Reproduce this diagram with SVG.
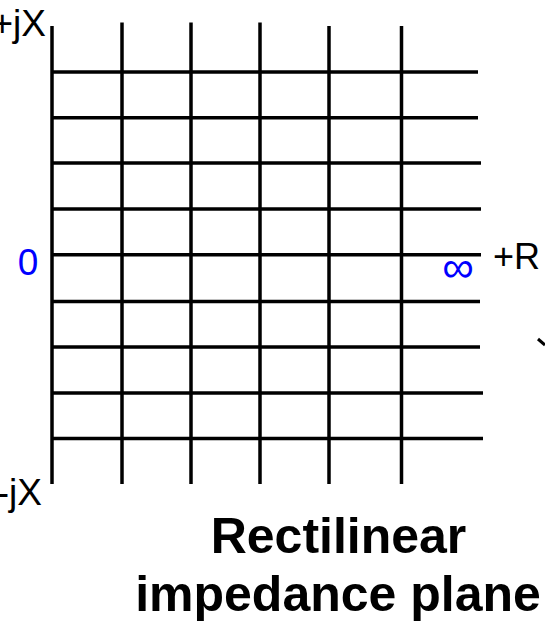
<svg xmlns="http://www.w3.org/2000/svg" width="545" height="624" viewBox="0 0 545 624">
<style>
.g{stroke:#000;stroke-width:3.5;fill:none}
.lbl{font-family:"Liberation Sans",Arial,sans-serif;fill:#000}
.blue{font-family:"Liberation Sans",Arial,sans-serif;fill:#0000ff}
.title{font-family:"Liberation Sans",Arial,sans-serif;font-weight:bold;fill:#000;font-size:50px;text-anchor:middle}
</style>
<rect width="545" height="624" fill="#fff"/>
<g id="grid" class="g">
<line x1="52" y1="26" x2="52" y2="484"/>
<line x1="122" y1="22.5" x2="122" y2="484"/>
<line x1="191" y1="22.5" x2="191" y2="484"/>
<line x1="260" y1="22.5" x2="260" y2="484"/>
<line x1="329" y1="26" x2="329" y2="484"/>
<line x1="401.5" y1="26" x2="401.5" y2="484"/>
<line x1="52" y1="72" x2="478" y2="72"/>
<line x1="52" y1="117.8" x2="478" y2="117.8"/>
<line x1="52" y1="163" x2="481" y2="163"/>
<line x1="52" y1="209" x2="481" y2="209"/>
<line x1="52" y1="254.7" x2="481" y2="254.7"/>
<line x1="52" y1="301.6" x2="480" y2="301.6"/>
<line x1="52" y1="347" x2="480" y2="347"/>
<line x1="52" y1="393" x2="483" y2="393"/>
<line x1="52" y1="438.5" x2="483" y2="438.5"/>
</g>
<g id="tick">
<line x1="538" y1="339" x2="545" y2="345" stroke="#000" stroke-width="3"/>
</g>
<g id="labels">
<text class="lbl" x="46" y="36" font-size="37" text-anchor="end">+jX</text>
<text class="lbl" x="42" y="504.5" font-size="37" text-anchor="end">-jX</text>
<text class="blue" x="28" y="274.5" font-size="37" text-anchor="middle">0</text>
<text class="blue" x="458" y="282" font-size="44" text-anchor="middle">∞</text>
<text class="lbl" x="493" y="268.5" font-size="36">+R</text>
</g>
<g id="title">
<text class="title" x="338.5" y="553">Rectilinear</text>
<text class="title" x="338" y="611">impedance plane</text>
</g>
</svg>
